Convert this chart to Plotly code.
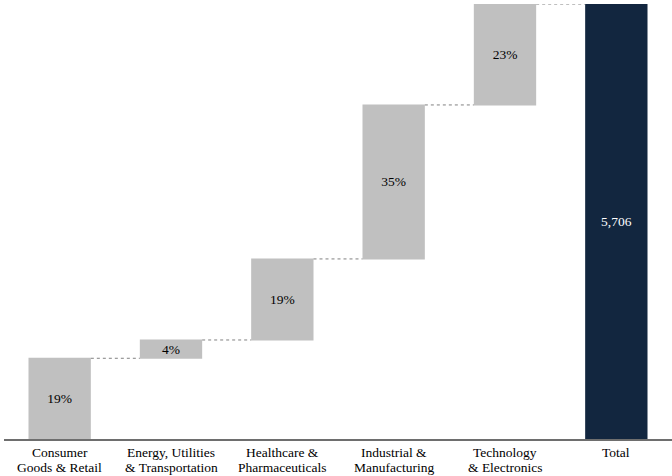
import plotly.graph_objects as go

# Sector contributions and overall total
categories = [
    "Consumer<br>Goods & Retail",
    "Energy, Utilities<br>& Transportation",
    "Healthcare &<br>Pharmaceuticals",
    "Industrial &<br>Manufacturing",
    "Technology<br>& Electronics",
    "Total",
]
sector_values = [1059, 240, 1063, 2020, 1324]
total_value = sum(sector_values)

values = sector_values + [total_value]
measures = ["relative"] * len(sector_values) + ["total"]
labels = [f"{v / total_value:.0%}" for v in sector_values] + [f"{total_value:,}"]
label_colors = ["#000000"] * len(sector_values) + ["#ffffff"]

GREY = "#c0c0c0"
NAVY = "#12263f"
FONT = "Liberation Serif, Times New Roman, serif"
SIZE = 13.5

fig = go.Figure(
    go.Waterfall(
        x=categories,
        y=values,
        measure=measures,
        text=labels,
        textposition="inside",
        insidetextanchor="middle",
        constraintext="none",
        textfont=dict(family=FONT, size=SIZE, color=label_colors),
        increasing=dict(marker=dict(color=GREY, line=dict(width=0))),
        decreasing=dict(marker=dict(color=GREY, line=dict(width=0))),
        totals=dict(marker=dict(color=NAVY, line=dict(width=0))),
        connector=dict(line=dict(color="#808080", width=1, dash="dot")),
        hoverinfo="skip",
    )
)

# Category labels drawn line by line for tighter line spacing
for cat in categories:
    for i, line in enumerate(cat.split("<br>")):
        fig.add_annotation(
            x=cat,
            xref="x",
            y=0,
            yref="paper",
            text=line,
            showarrow=False,
            xanchor="center",
            yanchor="middle",
            yshift=-(13 + 15 * i),
            font=dict(family=FONT, size=SIZE, color="#000000"),
        )

fig.update_layout(
    width=672,
    height=476,
    margin=dict(l=4, r=0, t=4, b=37),
    plot_bgcolor="white",
    paper_bgcolor="white",
    showlegend=False,
    waterfallgap=0.44,
    font=dict(family=FONT, size=SIZE, color="#000000"),
)
fig.update_xaxes(
    showline=True,
    linecolor="#6e6e6e",
    linewidth=2,
    showgrid=False,
    ticks="",
    showticklabels=False,
)
fig.update_yaxes(
    visible=False,
    range=[0, total_value],
    showgrid=False,
    zeroline=False,
)

fig.write_html("out.html")
